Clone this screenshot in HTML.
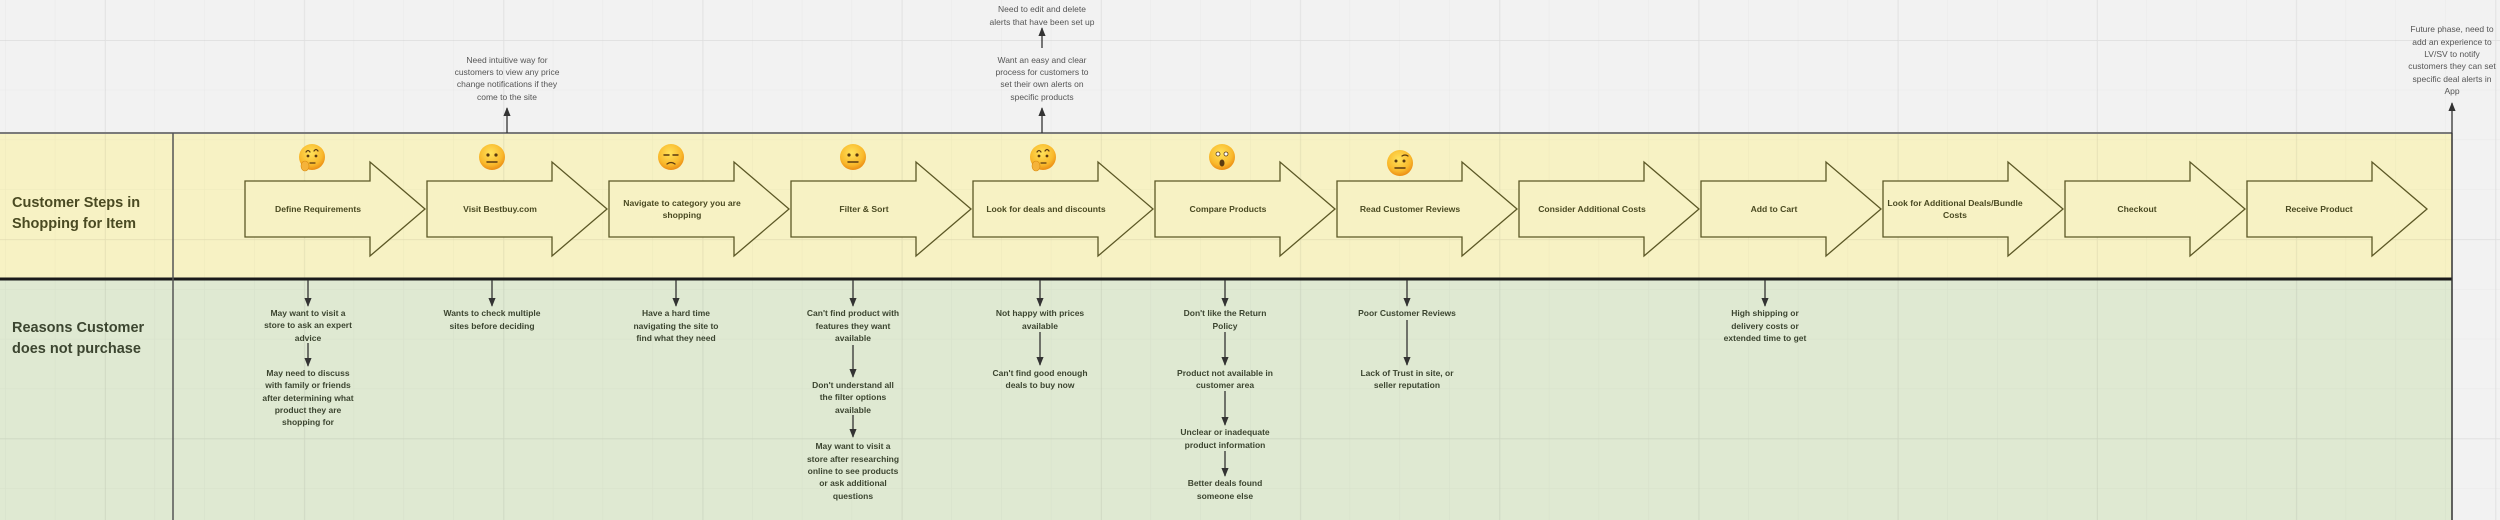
<!DOCTYPE html>
<html><head><meta charset="utf-8"><style>
html,body{margin:0;padding:0;background:#f2f2f2;}
svg{display:block;}
.st{font-family:"Liberation Sans",sans-serif;font-weight:bold;font-size:8.6px;fill:#4a4a22;text-anchor:middle;}
.rs{font-family:"Liberation Sans",sans-serif;font-weight:bold;font-size:8.5px;fill:#3c4530;text-anchor:middle;}
.nt{font-family:"Liberation Sans",sans-serif;font-size:8.5px;fill:#555;text-anchor:middle;}
.lb{font-family:"Liberation Sans",sans-serif;font-weight:bold;font-size:14.5px;fill:#4a4a22;}
.lg{font-family:"Liberation Sans",sans-serif;font-weight:bold;font-size:14.5px;fill:#3c4530;}
</style></head><body>
<svg width="2500" height="520" viewBox="0 0 2500 520" xmlns="http://www.w3.org/2000/svg">
<defs>
<radialGradient id="em" cx="45%" cy="35%" r="65%"><stop offset="0" stop-color="#ffe25a"/><stop offset="0.7" stop-color="#f9b92c"/><stop offset="1" stop-color="#ec8e14"/></radialGradient>
<marker id="ah" viewBox="0 0 10 10" refX="9" refY="5" markerWidth="7" markerHeight="7" orient="auto"><path d="M0,1 L10,5 L0,9 Z" fill="#333"/></marker>
<pattern id="grid" width="49.8" height="49.8" patternUnits="userSpaceOnUse" x="5" y="40"><path d="M0,0 V50 M0,0 H50" stroke="#000" stroke-opacity="0.035" stroke-width="1" fill="none"/></pattern>
<pattern id="gridB" width="199.2" height="199.2" patternUnits="userSpaceOnUse" x="105" y="40"><path d="M0,0 V200 M0,0 H200" stroke="#000" stroke-opacity="0.05" stroke-width="2" fill="none"/></pattern>
</defs>
<rect width="2500" height="520" fill="#f2f2f2"/>
<rect x="0" y="133" width="2452" height="146" fill="#f7f2c4"/>
<rect x="0" y="279" width="2452" height="241" fill="#dfe9d2"/>
<rect width="2500" height="520" fill="url(#grid)"/>
<rect width="2500" height="520" fill="url(#gridB)"/>
<line x1="0" y1="133" x2="2452" y2="133" stroke="#7a7a7a" stroke-width="2"/>
<line x1="0" y1="279" x2="2452" y2="279" stroke="#1a1a1a" stroke-width="3"/>
<line x1="173" y1="133" x2="173" y2="520" stroke="#555" stroke-width="1.5"/>
<line x1="2452" y1="133" x2="2452" y2="520" stroke="#333" stroke-width="1.5"/>

<text class="lb" x="12" y="207">Customer Steps in</text>
<text class="lb" x="12" y="228">Shopping for Item</text>
<text class="lg" x="12" y="332">Reasons Customer</text>
<text class="lg" x="12" y="353">does not purchase</text>

<g fill="#f7f2c4" stroke="#5c5826" stroke-width="1.3">
<path d="M245,181 H370 V162 L425,209 L370,256 V237 H245 Z"/>
<path d="M427,181 H552 V162 L607,209 L552,256 V237 H427 Z"/>
<path d="M609,181 H734 V162 L789,209 L734,256 V237 H609 Z"/>
<path d="M791,181 H916 V162 L971,209 L916,256 V237 H791 Z"/>
<path d="M973,181 H1098 V162 L1153,209 L1098,256 V237 H973 Z"/>
<path d="M1155,181 H1280 V162 L1335,209 L1280,256 V237 H1155 Z"/>
<path d="M1337,181 H1462 V162 L1517,209 L1462,256 V237 H1337 Z"/>
<path d="M1519,181 H1644 V162 L1699,209 L1644,256 V237 H1519 Z"/>
<path d="M1701,181 H1826 V162 L1881,209 L1826,256 V237 H1701 Z"/>
<path d="M1883,181 H2008 V162 L2063,209 L2008,256 V237 H1883 Z"/>
<path d="M2065,181 H2190 V162 L2245,209 L2190,256 V237 H2065 Z"/>
<path d="M2247,181 H2372 V162 L2427,209 L2372,256 V237 H2247 Z"/>
</g>
<text class="st" x="318" y="212">Define Requirements</text>
<text class="st" x="500" y="212">Visit Bestbuy.com</text>
<text class="st" x="682" y="206">Navigate to category you are</text>
<text class="st" x="682" y="218">shopping</text>
<text class="st" x="864" y="212">Filter &amp; Sort</text>
<text class="st" x="1046" y="212">Look for deals and discounts</text>
<text class="st" x="1228" y="212">Compare Products</text>
<text class="st" x="1410" y="212">Read Customer Reviews</text>
<text class="st" x="1592" y="212">Consider Additional Costs</text>
<text class="st" x="1774" y="212">Add to Cart</text>
<text class="st" x="1955" y="206">Look for Additional Deals/Bundle</text>
<text class="st" x="1955" y="218">Costs</text>
<text class="st" x="2137" y="212">Checkout</text>
<text class="st" x="2319" y="212">Receive Product</text>

<!-- emojis -->
<g stroke-linecap="round">
<g transform="translate(312,157)"><circle r="13" fill="url(#em)"/><path d="M-6,-5 q2,-3 4,0 M2,-6 q2,-3 4,0" stroke="#5a3a10" stroke-width="1.2" fill="none"/><circle cx="-4" cy="-1" r="1.4" fill="#5a3a10"/><circle cx="4" cy="-1" r="1.4" fill="#5a3a10"/><path d="M-2,6 h5" stroke="#5a3a10" stroke-width="1.2"/><ellipse cx="-7" cy="9" rx="4" ry="5" fill="#f5b33a" stroke="#d88a10" stroke-width="0.6"/></g>
<g transform="translate(492,157)"><circle r="13" fill="url(#em)"/><circle cx="-4" cy="-2" r="1.6" fill="#5a3a10"/><circle cx="4" cy="-2" r="1.6" fill="#5a3a10"/><path d="M-5,5 h10" stroke="#5a3a10" stroke-width="1.4"/></g>
<g transform="translate(671,157)"><circle r="13" fill="url(#em)"/><path d="M-7,-2 h5 M2,-2 h5" stroke="#5a3a10" stroke-width="1.4"/><path d="M-4,7 q4,-3 8,0" stroke="#5a3a10" stroke-width="1.3" fill="none"/></g>
<g transform="translate(853,157)"><circle r="13" fill="url(#em)"/><circle cx="-4" cy="-2" r="1.6" fill="#5a3a10"/><circle cx="4" cy="-2" r="1.6" fill="#5a3a10"/><path d="M-5,5 h10" stroke="#5a3a10" stroke-width="1.4"/></g>
<g transform="translate(1043,157)"><circle r="13" fill="url(#em)"/><path d="M-6,-5 q2,-3 4,0 M2,-6 q2,-3 4,0" stroke="#5a3a10" stroke-width="1.2" fill="none"/><circle cx="-4" cy="-1" r="1.4" fill="#5a3a10"/><circle cx="4" cy="-1" r="1.4" fill="#5a3a10"/><path d="M-2,6 h5" stroke="#5a3a10" stroke-width="1.2"/><ellipse cx="-7" cy="9" rx="4" ry="5" fill="#f5b33a" stroke="#d88a10" stroke-width="0.6"/></g>
<g transform="translate(1222,157)"><circle r="13" fill="url(#em)"/><circle cx="-4" cy="-3" r="2" fill="#fff" stroke="#5a3a10" stroke-width="0.8"/><circle cx="4" cy="-3" r="2" fill="#fff" stroke="#5a3a10" stroke-width="0.8"/><ellipse cx="0" cy="6" rx="2.5" ry="3.5" fill="#5a3a10"/></g>
<g transform="translate(1400,163)"><circle r="13" fill="url(#em)"/><path d="M2,-7 q3,-2 6,0" stroke="#5a3a10" stroke-width="1.2" fill="none"/><circle cx="-4" cy="-2" r="1.5" fill="#5a3a10"/><circle cx="4" cy="-2" r="1.5" fill="#5a3a10"/><path d="M-5,5 h10" stroke="#5a3a10" stroke-width="1.4"/></g>
</g>

<!-- top notes -->
<g stroke="#333" stroke-width="1.3" marker-end="url(#ah)">
<line x1="507" y1="133" x2="507" y2="108"/>
<line x1="1042" y1="133" x2="1042" y2="108"/>
<line x1="1042" y1="48" x2="1042" y2="28"/>
<line x1="2452" y1="133" x2="2452" y2="103"/>
</g>
<text class="nt" x="507" y="63">Need intuitive way for</text>
<text class="nt" x="507" y="75">customers to view any price</text>
<text class="nt" x="507" y="87">change notifications if they</text>
<text class="nt" x="507" y="100">come to the site</text>
<text class="nt" x="1042" y="12">Need to edit and delete</text>
<text class="nt" x="1042" y="25">alerts that have been set up</text>
<text class="nt" x="1042" y="63">Want an easy and clear</text>
<text class="nt" x="1042" y="75">process for customers to</text>
<text class="nt" x="1042" y="87">set their own alerts on</text>
<text class="nt" x="1042" y="100">specific products</text>
<text class="nt" x="2452" y="32">Future phase, need to</text>
<text class="nt" x="2452" y="45">add an experience to</text>
<text class="nt" x="2452" y="57">LV/SV to notify</text>
<text class="nt" x="2452" y="69">customers they can set</text>
<text class="nt" x="2452" y="82">specific deal alerts in</text>
<text class="nt" x="2452" y="94">App</text>

<!-- down connectors -->
<g stroke="#333" stroke-width="1.3" marker-end="url(#ah)">
<line x1="308" y1="280" x2="308" y2="306"/>
<line x1="308" y1="343" x2="308" y2="366"/>
<line x1="492" y1="280" x2="492" y2="306"/>
<line x1="676" y1="280" x2="676" y2="306"/>
<line x1="853" y1="280" x2="853" y2="306"/>
<line x1="853" y1="345" x2="853" y2="377"/>
<line x1="853" y1="415" x2="853" y2="437"/>
<line x1="1040" y1="280" x2="1040" y2="306"/>
<line x1="1040" y1="332" x2="1040" y2="365"/>
<line x1="1225" y1="280" x2="1225" y2="306"/>
<line x1="1225" y1="332" x2="1225" y2="365"/>
<line x1="1225" y1="391" x2="1225" y2="425"/>
<line x1="1225" y1="451" x2="1225" y2="476"/>
<line x1="1407" y1="280" x2="1407" y2="306"/>
<line x1="1407" y1="320" x2="1407" y2="365"/>
<line x1="1765" y1="280" x2="1765" y2="306"/>
</g>
<g class="rs">
<text class="rs" x="308" y="316">May want to visit a</text>
<text class="rs" x="308" y="328">store to ask an expert</text>
<text class="rs" x="308" y="341">advice</text>
<text class="rs" x="308" y="376">May need to discuss</text>
<text class="rs" x="308" y="388">with family or friends</text>
<text class="rs" x="308" y="401">after determining what</text>
<text class="rs" x="308" y="413">product they are</text>
<text class="rs" x="308" y="425">shopping for</text>
<text class="rs" x="492" y="316">Wants to check multiple</text>
<text class="rs" x="492" y="329">sites before deciding</text>
<text class="rs" x="676" y="316">Have a hard time</text>
<text class="rs" x="676" y="329">navigating the site to</text>
<text class="rs" x="676" y="341">find what they need</text>
<text class="rs" x="853" y="316">Can't find product with</text>
<text class="rs" x="853" y="329">features they want</text>
<text class="rs" x="853" y="341">available</text>
<text class="rs" x="853" y="388">Don't understand all</text>
<text class="rs" x="853" y="400">the filter options</text>
<text class="rs" x="853" y="413">available</text>
<text class="rs" x="853" y="449">May want to visit a</text>
<text class="rs" x="853" y="462">store after researching</text>
<text class="rs" x="853" y="474">online to see products</text>
<text class="rs" x="853" y="486">or ask additional</text>
<text class="rs" x="853" y="499">questions</text>
<text class="rs" x="1040" y="316">Not happy with prices</text>
<text class="rs" x="1040" y="329">available</text>
<text class="rs" x="1040" y="376">Can't find good enough</text>
<text class="rs" x="1040" y="388">deals to buy now</text>
<text class="rs" x="1225" y="316">Don't like the Return</text>
<text class="rs" x="1225" y="329">Policy</text>
<text class="rs" x="1225" y="376">Product not available in</text>
<text class="rs" x="1225" y="388">customer area</text>
<text class="rs" x="1225" y="435">Unclear or inadequate</text>
<text class="rs" x="1225" y="448">product information</text>
<text class="rs" x="1225" y="486">Better deals found</text>
<text class="rs" x="1225" y="499">someone else</text>
<text class="rs" x="1407" y="316">Poor Customer Reviews</text>
<text class="rs" x="1407" y="376">Lack of Trust in site, or</text>
<text class="rs" x="1407" y="388">seller reputation</text>
<text class="rs" x="1765" y="316">High shipping or</text>
<text class="rs" x="1765" y="329">delivery costs or</text>
<text class="rs" x="1765" y="341">extended time to get</text>
</g>
</svg>
</body></html>
